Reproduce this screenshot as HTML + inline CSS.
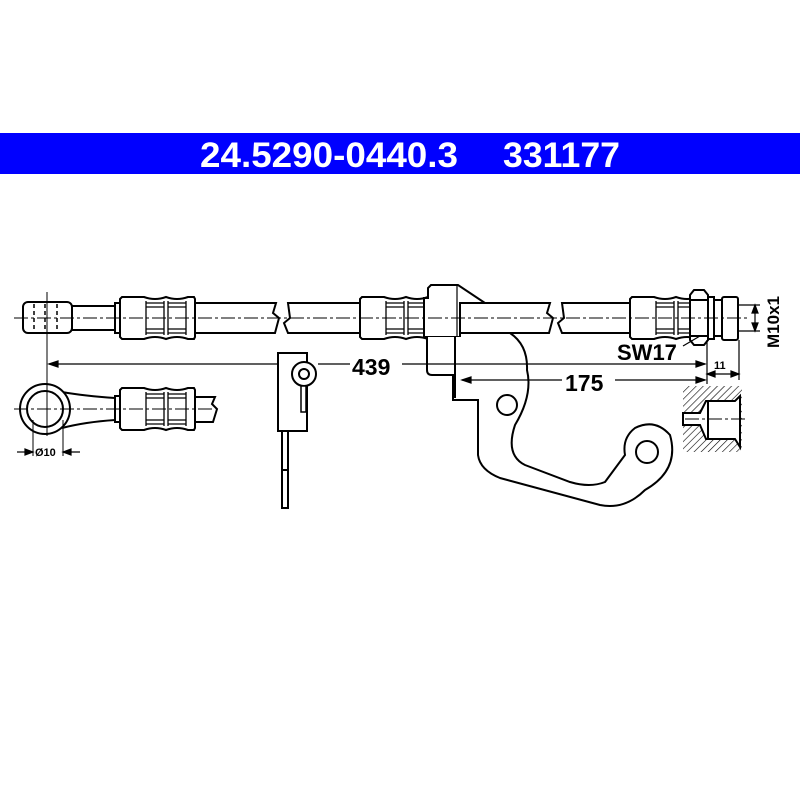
<!DOCTYPE html>
<html><head><meta charset="utf-8"><style>
html,body{margin:0;padding:0;background:#fff;}
svg{display:block;}
text{font-family:"Liberation Sans",Arial,sans-serif;font-weight:bold;}
</style></head><body>
<svg width="800" height="800" viewBox="0 0 800 800" xmlns="http://www.w3.org/2000/svg">
<defs>
<g id="sleeve" fill="#fff" stroke="#000" stroke-width="2">
  <path d="M0,-19 L2,-21 L24,-21 Q35,-17 46,-21 Q57,-17 68,-21 L74,-21 L75,-19 L75,19 L74,21 L68,21 Q57,17 46,21 Q35,17 24,21 L2,21 L0,19 Z"/>
  <g stroke-width="1.3">
    <line x1="26" y1="-15" x2="44" y2="-15"/><line x1="26" y1="-11" x2="44" y2="-11"/>
    <line x1="26" y1="11" x2="44" y2="11"/><line x1="26" y1="15" x2="44" y2="15"/>
    <line x1="48" y1="-15" x2="66" y2="-15"/><line x1="48" y1="-11" x2="66" y2="-11"/>
    <line x1="48" y1="11" x2="66" y2="11"/><line x1="48" y1="15" x2="66" y2="15"/>
    <line x1="26" y1="-17" x2="26" y2="17"/><line x1="44" y1="-17" x2="44" y2="17"/>
    <line x1="48" y1="-17" x2="48" y2="17"/><line x1="66" y1="-17" x2="66" y2="17"/>
  </g>
</g>
<pattern id="hatch" width="5" height="5" patternUnits="userSpaceOnUse" patternTransform="rotate(45)">
  <line x1="0" y1="0" x2="0" y2="5" stroke="#000" stroke-width="1.2"/>
</pattern>
</defs>

<rect x="0" y="133" width="800" height="41" fill="#0000ff"/>
<text x="200" y="167" font-size="35" fill="#fff" textLength="258" lengthAdjust="spacingAndGlyphs">24.5290-0440.3</text>
<text x="503" y="167" font-size="35" fill="#fff" textLength="117" lengthAdjust="spacingAndGlyphs">331177</text>

<g stroke="#000" stroke-width="2" fill="#fff">
  <rect x="72" y="306" width="45" height="24"/>
  <rect x="23" y="302" width="49" height="31" rx="5"/>
  <g stroke-width="1.5"><line x1="34" y1="304" x2="34" y2="331" stroke-dasharray="4 3"/><line x1="45" y1="304" x2="45" y2="331" stroke-dasharray="4 3"/><line x1="57" y1="304" x2="57" y2="331" stroke-dasharray="4 3"/></g>
  <rect x="115" y="303" width="6" height="30"/>
  <path d="M195,303 L276,303 L273,313 L279,318 L275,333 L195,333"/>
  <path d="M288,303 L368,303 L368,333 L288,333 L284,323 L290,318 Z"/>
  <path d="M460,303 L550,303 L547,313 L553,318 L549,333 L460,333"/>
  <path d="M562,303 L632,303 L632,333 L562,333 L558,323 L564,318 Z"/>
  <use href="#sleeve" x="120" y="318"/>
  <use href="#sleeve" x="360" y="318"/>
  <use href="#sleeve" x="630" y="318"/>
  <path d="M690,295 L694,290 L704,290 L708,295 L708,340 L704,345 L694,345 L690,340 Z"/>
  <line x1="690" y1="300" x2="708" y2="300"/><line x1="690" y1="336" x2="708" y2="336"/>
  <rect x="708" y="297" width="6" height="42"/>
  <rect x="714" y="300" width="8" height="36"/>
  <rect x="722" y="297" width="16" height="43" rx="2"/>
  <path d="M424,298 L428,298 L428,288 L431,285 L458,285 L485,303 L460,303 L460,337 L424,337 Z" />
  <path d="M427,337 L427,370 Q427,375 432,375 L453,375 L453,400 L478,400 L478,455 Q480,470 500,478 L600,505 Q625,510 645,490 Q680,470 670,435 Q655,418 635,428 Q622,438 625,455 L605,482 Q590,488 570,482 L525,465 Q505,455 515,425 Q533,395 527,370 Q528,345 510,333 L460,333 L460,337"/>
  <line x1="455" y1="337" x2="455" y2="398"/>
  <line x1="457" y1="286" x2="457" y2="337" stroke-width="1.2"/>
  <circle cx="507" cy="405" r="10"/>
  <circle cx="647" cy="452" r="11"/>
  <path d="M62,392 Q85,396 115,398 L115,420 Q85,422 62,428"/>
  <circle cx="45" cy="409" r="25"/>
  <circle cx="45" cy="409" r="18"/>
  <rect x="115" y="396" width="6" height="26"/>
  <path d="M195,397 L215,397 L212,404 L217,409 L213,422 L195,422"/>
  <use href="#sleeve" x="120" y="409"/>
  <rect x="278" y="353" width="29" height="78"/>
  <rect x="282" y="431" width="6" height="77"/>
  <line x1="282" y1="470" x2="288" y2="470"/>
  <circle cx="304" cy="374" r="12"/>
  <circle cx="304" cy="374" r="5"/>
  <rect x="301" y="386" width="5" height="26" stroke-width="1.5"/>
  <rect x="683" y="386" width="59" height="66" fill="url(#hatch)" stroke="none"/>
  <path d="M683,413 L700,413 L706,401 L735,401 L740,396 L740,447 L735,439 L706,439 L700,425 L683,425 Z" fill="#fff"/>
  <line x1="708" y1="401" x2="708" y2="439"/>
</g>

<g stroke="#000" stroke-width="1" stroke-dasharray="14 3 3 3" fill="none">
  <line x1="14" y1="318" x2="750" y2="318"/>
  <line x1="14" y1="409" x2="215" y2="409"/>
  <line x1="685" y1="419" x2="745" y2="419"/>
</g>
<g stroke="#000" stroke-width="1">
  <line x1="47" y1="292" x2="47" y2="436"/>
  <line x1="33" y1="420" x2="33" y2="456"/>
  <line x1="63" y1="420" x2="63" y2="456"/>
</g>
<g stroke="#000" stroke-width="1.2" fill="#000">
  <line x1="49" y1="364" x2="278" y2="364"/>
  <line x1="318" y1="364" x2="350" y2="364"/>
  <line x1="402" y1="364" x2="705" y2="364"/>
  <path d="M49,364 L58,361 L58,367 Z"/>
  <path d="M705,364 L696,361 L696,367 Z"/>
  <line x1="462" y1="380" x2="562" y2="380"/>
  <line x1="615" y1="380" x2="705" y2="380"/>
  <path d="M462,380 L471,377 L471,383 Z"/>
  <path d="M705,380 L696,377 L696,383 Z"/>
  <line x1="707" y1="340" x2="707" y2="384"/>
  <line x1="739" y1="340" x2="739" y2="380"/>
  <line x1="707" y1="374" x2="739" y2="374"/>
  <path d="M707,374 L715,371 L715,377 Z"/><path d="M739,374 L731,371 L731,377 Z"/>
  <line x1="737" y1="305" x2="760" y2="305"/><line x1="737" y1="331" x2="760" y2="331"/>
  <line x1="755" y1="305" x2="755" y2="331"/>
  <path d="M755,305 L752,313 L758,313 Z"/><path d="M755,331 L752,323 L758,323 Z"/>
  <line x1="17" y1="452" x2="33" y2="452"/><line x1="63" y1="452" x2="80" y2="452"/>
  <path d="M33,452 L25,449 L25,455 Z"/><path d="M63,452 L71,449 L71,455 Z"/>
  <line x1="683" y1="346" x2="700" y2="336"/>
</g>
<text x="352" y="375" font-size="23">439</text>
<text x="565" y="391" font-size="23">175</text>
<text x="617" y="360" font-size="22">SW17</text>
<text x="714" y="369" font-size="11">11</text>
<text x="0" y="0" font-size="17" transform="translate(779,348) rotate(-90)">M10x1</text>
<text x="35" y="456" font-size="11" font-weight="normal">Ø10</text>
</svg>
</body></html>
